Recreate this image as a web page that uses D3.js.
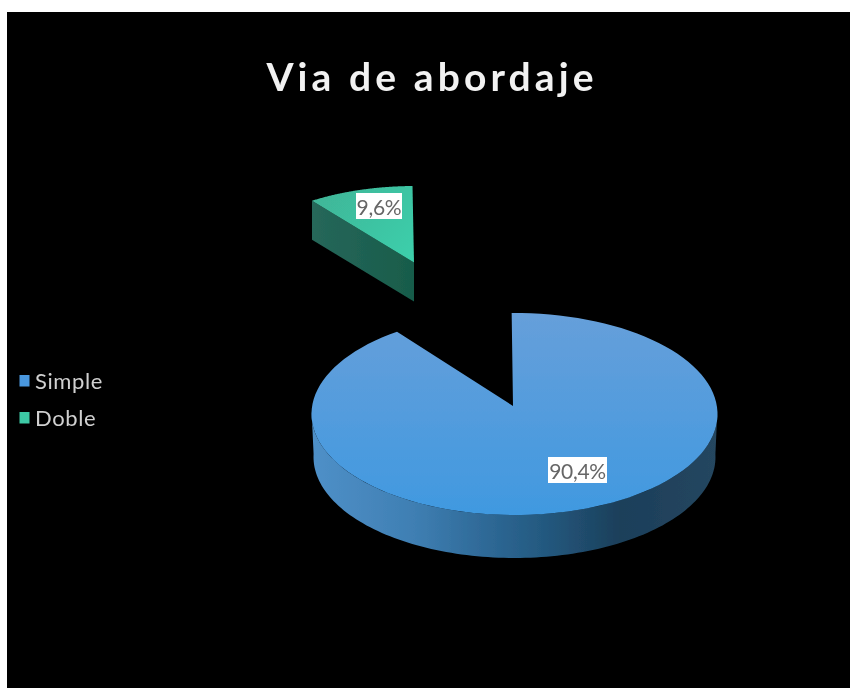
<!DOCTYPE html>
<html><head><meta charset="utf-8">
<script src="https://cdn.jsdelivr.net/npm/d3@7"></script>
<style>html,body{margin:0;padding:0;background:#fff}svg{display:block}</style>
</head><body><div id="c"></div>
<script>
const titleText = "Via de abordaje";
const categories = ["Simple", "Doble"];
const values = [90.4, 9.6];
const valueLabels = ["90,4%", "9,6%"];
const topColors = [["#669fda", "#4099e0"], ["#3fb698", "#3dd0ac"]];
const sideColors = [["#4e8fc8", "#1d3f5a"], ["#26675a", "#185c4a"]];
const legendColors = ["#4a97de", "#3cc9a5"];

const W = 850, H = 688;
const svg = d3.select("#c").append("svg").attr("width", W).attr("height", H);
svg.append("rect").attr("x", 7).attr("y", 12).attr("width", W - 7).attr("height", H - 12).attr("fill", "#000");

const defs = svg.append("defs");
defs.append("filter").attr("id", "soft").append("feGaussianBlur").attr("stdDeviation", 0.6);
function grad(id, c, x1, y1, x2, y2, stops) {
  const g = defs.append("linearGradient").attr("id", id)
    .attr("gradientUnits", "userSpaceOnUse")
    .attr("x1", x1).attr("y1", y1).attr("x2", x2).attr("y2", y2);
  (stops || [[0, c[0]], [1, c[1]]]).forEach(s => g.append("stop").attr("offset", s[0]).attr("stop-color", s[1]));
}

const arcs = d3.pie().sort(null).value(d => d).startAngle(-0.014).endAngle(2 * Math.PI - 0.014)(values);

// geometry of each extruded slice: rim ellipse, apex (perspective-shifted), depth, lower-rim inset
const geom = [
  { cx: 514.5, cy: 414, rx: 203, ry: 101, ax: 513, ay: 406, depth: 43, inset: 2 },
  { cx: 415, cy: 266, rx: 178, ry: 80, ax: 414, ay: 262.5, depth: 39, inset: 0 }
];
const rim = (g, t) => [g.cx + g.rx * Math.sin(t), g.cy - g.ry * Math.cos(t)];
const lowRim = (g, t) => [g.cx + (g.rx - g.inset) * Math.sin(t), g.cy - g.ry * Math.cos(t) + g.depth];
const angles = (a, b) => d3.range(0, 121).map(i => a + (b - a) * i / 120);
const line = d3.line();

const layer = svg.append("g").attr("filter", "url(#soft)");

// Simple
{
  const g = geom[0], a = arcs[0];
  grad("top0", topColors[0], 0, g.cy - g.ry, 0, g.cy + g.ry);
  grad("side0", sideColors[0], g.cx - g.rx, 0, g.cx + g.rx, 0, [
    [0, "#4f90c8"], [0.25, "#3f7fb3"], [0.42, "#2f6a98"], [0.58, "#23587e"],
    [0.76, "#1c3f5a"], [1, "#25465f"]
  ]);
  const front = angles(Math.PI / 2 - 0.03, 3 * Math.PI / 2 + 0.03);
  layer.append("path")
    .attr("d", line([...front.map(t => rim(g, t)), ...front.slice().reverse().map(t => lowRim(g, t))]) + "Z")
    .attr("fill", "url(#side0)");
  layer.append("path")
    .attr("d", line([[g.ax, g.ay], ...angles(a.startAngle, a.endAngle).map(t => rim(g, t))]) + "Z")
    .attr("fill", "url(#top0)");
}
// Doble (exploded)
{
  const g = geom[1], a = arcs[1];
  const p = rim(g, a.startAngle);
  grad("top1", topColors[1], g.cx - g.rx * 0.5, g.cy - g.ry, g.cx, g.ay);
  grad("side1", sideColors[1], p[0], 0, g.ax, 0);
  layer.append("path")
    .attr("d", line([p, [g.ax, g.ay], [g.ax, g.ay + g.depth], [p[0], p[1] + g.depth]]) + "Z")
    .attr("fill", "url(#side1)");
  layer.append("path")
    .attr("d", line([[g.ax, g.ay], ...angles(a.startAngle, a.endAngle).map(t => rim(g, t))]) + "Z")
    .attr("fill", "url(#top1)");
}

// data labels
const labelBoxes = [
  { x: 548, y: 457, w: 59, h: 26 },
  { x: 356, y: 193, w: 46, h: 26 }
];
valueLabels.forEach((t, i) => {
  const b = labelBoxes[i];
  layer.append("rect").attr("x", b.x).attr("y", b.y).attr("width", b.w).attr("height", b.h).attr("fill", "#fff");
  layer.append("text").attr("x", b.x + b.w / 2).attr("y", b.y + 21.5)
    .attr("text-anchor", "middle").attr("font-family", "Lato, sans-serif")
    .attr("font-size", 21).attr("letter-spacing", -0.3).attr("fill", "#666").text(t);
});

// legend
categories.forEach((c, i) => {
  const y = 381 + i * 37;
  layer.append("rect").attr("x", 19.5).attr("y", y - 6).attr("width", 10).attr("height", 11.5).attr("fill", legendColors[i]);
  layer.append("text").attr("x", 35).attr("y", y + 7.5)
    .attr("font-family", "Lato, sans-serif").attr("font-size", 22)
    .attr("letter-spacing", 0.6).attr("fill", "#d0d0d0").text(c);
});

// title
layer.append("text").attr("x", 432).attr("y", 91).attr("text-anchor", "middle")
  .attr("font-family", "Lato, sans-serif").attr("font-weight", 700).attr("font-size", 39)
  .attr("letter-spacing", 4.1).attr("fill", "#f2f2f2").text(titleText);
</script></body></html>
